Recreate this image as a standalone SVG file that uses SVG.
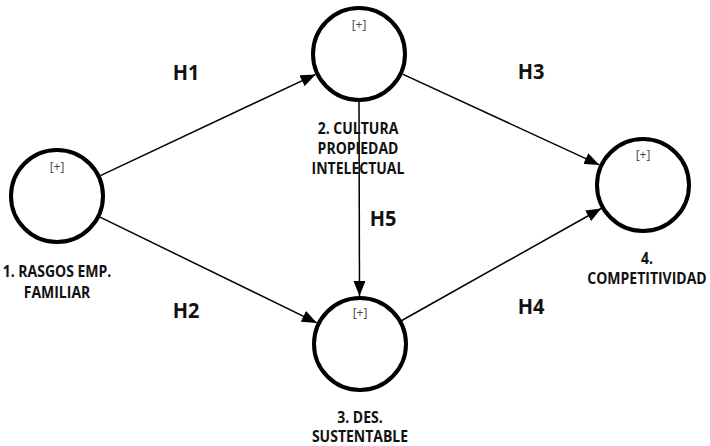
<svg xmlns="http://www.w3.org/2000/svg" width="710" height="446" viewBox="0 0 710 446">
<style>
.node circle{fill:#fff;stroke:#000;stroke-width:4}
.plus{font-family:"Open Sans","DejaVu Sans",sans-serif;font-size:12px;fill:#444;text-anchor:middle}
.lbl{font-family:"Open Sans","DejaVu Sans",sans-serif;font-weight:700;font-size:14px;fill:#111;text-anchor:middle}
.h{font-family:"Open Sans","DejaVu Sans",sans-serif;font-weight:700;font-size:20px;fill:#111;text-anchor:middle}
.edge{stroke:#000;stroke-width:1.5;fill:none;marker-end:url(#arr)}
</style>
<defs>
<marker id="arr" markerUnits="userSpaceOnUse" markerWidth="15" markerHeight="12" refX="15" refY="6" orient="auto">
<path d="M0,0 L15,6 L0,12 z" fill="#000"/>
</marker>
</defs>
<rect width="710" height="446" fill="#fff"/>
<g id="connectors">
<line class="edge" x1="100.4" y1="175.6" x2="315.6" y2="74.4"/>
<line class="edge" x1="100.1" y1="217.1" x2="316.9" y2="322.9"/>
<line class="edge" x1="359" y1="102" x2="359.5" y2="296"/>
<line class="edge" x1="402.6" y1="74.1" x2="599.4" y2="164.9"/>
<line class="edge" x1="401.8" y1="320.5" x2="601.2" y2="208.5"/>
</g>
<g id="node1" class="node">
<circle cx="57" cy="196" r="46"/>
<text class="plus" x="57" y="171">[+]</text>
<text class="lbl" transform="translate(57,276.5) scale(1,1.12)">1. RASGOS EMP.</text>
<text class="lbl" transform="translate(57,297.5) scale(1,1.12)">FAMILIAR</text>
</g>
<g id="node2" class="node">
<circle cx="359" cy="54" r="46"/>
<text class="plus" x="359" y="29">[+]</text>
<text class="lbl" transform="translate(358,134) scale(1,1.12)">2. CULTURA</text>
<text class="lbl" transform="translate(358,153.5) scale(1,1.12)">PROPIEDAD</text>
<text class="lbl" transform="translate(358,173.5) scale(1,1.12)">INTELECTUAL</text>
</g>
<g id="node3" class="node">
<circle cx="360" cy="344" r="46"/>
<text class="plus" x="360" y="317">[+]</text>
<text class="lbl" transform="translate(360,422.5) scale(1,1.12)">3. DES.</text>
<text class="lbl" transform="translate(360,442) scale(1,1.12)">SUSTENTABLE</text>
</g>
<g id="node4" class="node">
<circle cx="643" cy="185" r="46"/>
<text class="plus" x="643" y="159">[+]</text>
<text class="lbl" transform="translate(647,263.5) scale(1,1.12)">4.</text>
<text class="lbl" transform="translate(647,284) scale(1,1.12)">COMPETITIVIDAD</text>
</g>
<g id="hlabels">
<text class="h" transform="translate(186,80) scale(1,1.1)">H1</text>
<text class="h" transform="translate(186,318) scale(1,1.1)">H2</text>
<text class="h" transform="translate(531,79) scale(1,1.1)">H3</text>
<text class="h" transform="translate(531,314) scale(1,1.1)">H4</text>
<text class="h" transform="translate(383,226) scale(1,1.1)">H5</text>
</g>
</svg>
